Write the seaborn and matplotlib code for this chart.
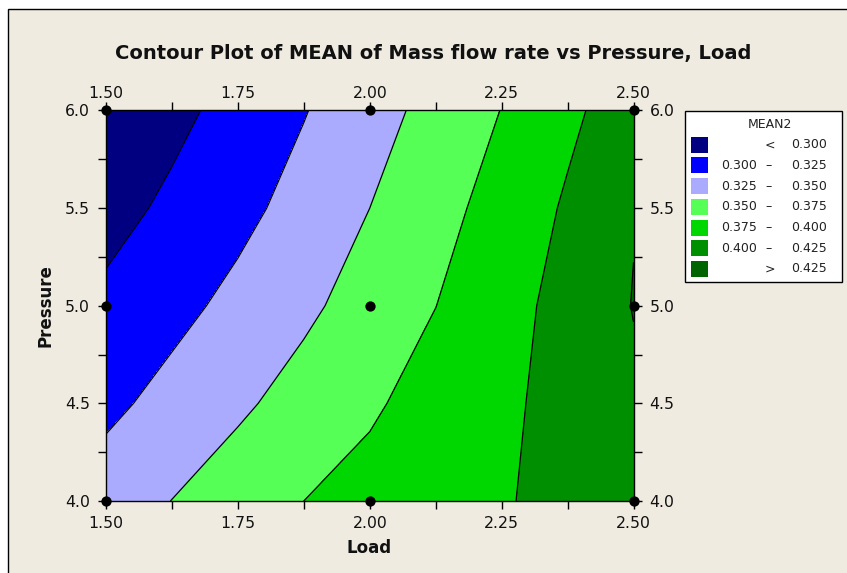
import numpy as np
import matplotlib
matplotlib.use("Agg")
import matplotlib.pyplot as plt
from matplotlib.patches import Rectangle
import seaborn as sns

# ---------------- data ----------------
load = [1.5, 1.625, 1.75, 1.875, 2.0, 2.125, 2.25, 2.375, 2.5]
pressure = [4.0, 4.5, 5.0, 5.5, 6.0]

mean_p40 = [0.337, 0.3503, 0.3626, 0.375, 0.3826, 0.3902, 0.3979, 0.4075, 0.418]
mean_p45 = [0.3195, 0.3327, 0.346, 0.359, 0.3719, 0.3838, 0.3954, 0.4079, 0.421]
mean_p50 = [0.3055, 0.3181, 0.3313, 0.3453, 0.3599, 0.3748, 0.3909, 0.408, 0.4258]
mean_p55 = [0.291, 0.3049, 0.3184, 0.3335, 0.350, 0.3666, 0.3843, 0.4029, 0.424]
mean_p60 = [0.278, 0.2934, 0.3086, 0.3238, 0.3405, 0.3577, 0.3755, 0.395, 0.413]

design_load = [1.5, 1.5, 1.5, 2.0, 2.0, 2.0, 2.5, 2.5, 2.5]
design_pressure = [4.0, 5.0, 6.0, 4.0, 5.0, 6.0, 4.0, 5.0, 6.0]

levels = [0.300, 0.325, 0.350, 0.375, 0.400, 0.425]
band_colors = ["#000080", "#0000FF", "#AAAAFF", "#55FF55", "#00D700", "#008F00", "#006400"]

x_major = [1.5, 1.75, 2.0, 2.25, 2.5]
x_minor = [1.625, 1.875, 2.125, 2.375]
x_labels = ["1.50", "1.75", "2.00", "2.25", "2.50"]
y_major = [4.0, 4.5, 5.0, 5.5, 6.0]
y_minor = [4.25, 4.75, 5.25, 5.75]
y_labels = ["4.0", "4.5", "5.0", "5.5", "6.0"]

title = "Contour Plot of MEAN of Mass flow rate vs Pressure, Load"
legend_title = "MEAN2"

# ---------------- figure ----------------
sns.set_style("white")
plt.rcParams["font.family"] = ["DejaVu Sans"]

W, H = 847, 573
fig = plt.figure(figsize=(W / 100, H / 100), dpi=100)
fig.patch.set_facecolor("white")


def fx(x):
    return x / W


def fy(y):
    return 1 - y / H


bg = "#EFEBE1"
fig.patches.append(Rectangle((fx(8), -0.1), 1.2, fy(9.5) + 0.1, transform=fig.transFigure,
                             facecolor=bg, edgecolor="black", linewidth=1.0, zorder=-10))

ax = fig.add_axes([fx(106), fy(501), (633.5 - 106) / W, (501 - 110.5) / H])
ax.set_zorder(2)

Z = np.array([mean_p40, mean_p45, mean_p50, mean_p55, mean_p60])
X, Y = np.meshgrid(load, pressure)
fill_levels = [0.2] + levels + [0.5]
ax.contourf(X, Y, Z, levels=fill_levels, colors=band_colors, zorder=1)
ax.contour(X, Y, Z, levels=levels, colors="black", linewidths=0.9, zorder=2)

sns.scatterplot(x=design_load, y=design_pressure, ax=ax, color="black", s=55,
                edgecolor="black", linewidth=0, clip_on=False, zorder=6, legend=False)

ax.set_xlim(1.5, 2.5)
ax.set_ylim(4.0, 6.0)
ax.set_xticks(x_major)
ax.set_xticklabels(x_labels)
ax.set_xticks(x_minor, minor=True)
ax.set_yticks(y_major)
ax.set_yticklabels(y_labels)
ax.set_yticks(y_minor, minor=True)
ax.tick_params(which="both", direction="out", length=6, width=1, color="black",
               top=True, bottom=True, left=True, right=True,
               labelright=True, labeltop=False)
ax.tick_params(axis="x", which="major", labelsize=11.3, pad=4.5, labelcolor="#111111")
ax.tick_params(axis="y", which="major", labelsize=11.3, pad=5.5, labelcolor="#111111")
for s in ax.spines.values():
    s.set_color("black")
    s.set_linewidth(1.0)
    s.set_zorder(4)

sec = ax.secondary_xaxis("top")
sec.set_xticks(x_major, labels=x_labels)
sec.tick_params(length=0, pad=7, labelsize=11.3, labelcolor="#111111")
sec.spines["top"].set_visible(False)

ax.set_xlabel("")
ax.set_ylabel("")

fig.text(fx(433), fy(58.5), title, ha="center", va="baseline",
         fontsize=14, fontweight="bold", color="#111111")
fig.text(fx(369.5), fy(553), "Load", ha="center", va="baseline",
         fontsize=12, fontweight="bold", color="#111111")
fig.text(fx(45), fy(305.5), "Pressure", ha="center", va="center", rotation=90,
         fontsize=12, fontweight="bold", color="#111111")

# ---------------- legend box ----------------
fig.patches.append(Rectangle((fx(685), fy(282)), (842 - 685) / W, (282 - 111) / H,
                             transform=fig.transFigure, facecolor="white",
                             edgecolor="black", linewidth=1.0, zorder=3))
fig.text(fx(770), fy(125), legend_title, ha="center", va="center", fontsize=9, color="#222222")
fmt = ["%.3f" % v for v in levels]
for i, col in enumerate(band_colors):
    yc = 144.7 + 20.7 * i
    fig.patches.append(Rectangle((fx(691), fy(yc + 8)), 17 / W, 16 / H,
                                 transform=fig.transFigure, facecolor=col,
                                 edgecolor="none", zorder=4))
    if i == 0:
        fig.text(fx(770), fy(yc), "<", ha="center", va="center", fontsize=9, color="#222222")
        fig.text(fx(827), fy(yc), fmt[0], ha="right", va="center", fontsize=9, color="#222222")
    elif i == len(band_colors) - 1:
        fig.text(fx(770), fy(yc), ">", ha="center", va="center", fontsize=9, color="#222222")
        fig.text(fx(827), fy(yc), fmt[-1], ha="right", va="center", fontsize=9, color="#222222")
    else:
        fig.text(fx(757), fy(yc), fmt[i - 1], ha="right", va="center", fontsize=9, color="#222222")
        fig.text(fx(769), fy(yc), "\u2013", ha="center", va="center", fontsize=9, color="#222222")
        fig.text(fx(827), fy(yc), fmt[i], ha="right", va="center", fontsize=9, color="#222222")

fig.savefig("out.png", dpi=100, facecolor=fig.get_facecolor())
